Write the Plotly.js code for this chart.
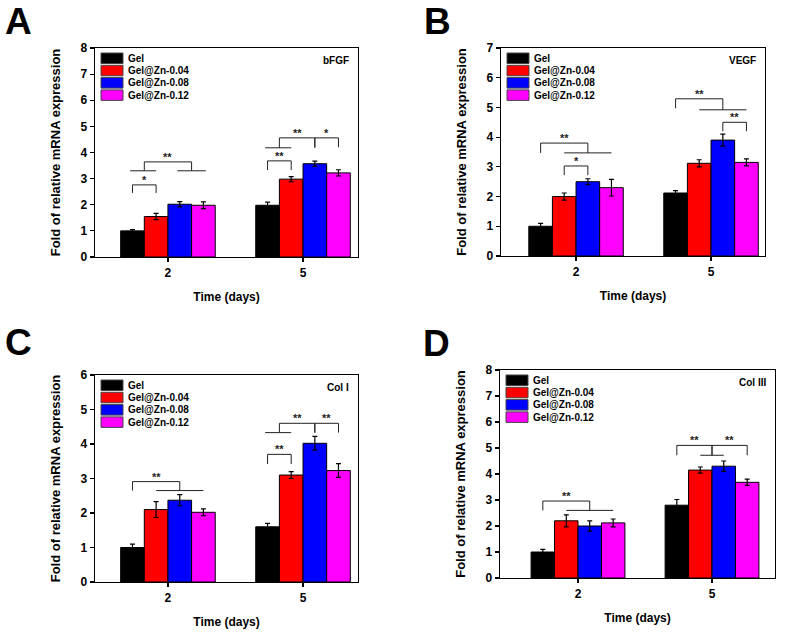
<!DOCTYPE html>
<html>
<head>
<meta charset="utf-8">
<script src="https://cdn.plot.ly/plotly-3.0.1.min.js"></script>
<style>
  html, body { margin: 0; padding: 0; background: #fff; }
  #chart { width: 790px; height: 633px; }
</style>
</head>
<body>
<div id="chart"></div>
<script>
// ---- data ----
const days = ['2', '5'];
const seriesNames = ['Gel', 'Gel@Zn-0.04', 'Gel@Zn-0.08', 'Gel@Zn-0.12'];
const seriesColors = ['#000000', '#ff0000', '#0000ff', '#ff00ff'];

// one row per series, one column per day
const bfgfMeans = [[1.0, 1.98], [1.55, 2.98], [2.02, 3.57], [1.98, 3.22]];
const bfgfErrors = [[0.05, 0.12], [0.12, 0.1], [0.1, 0.1], [0.13, 0.12]];

const vegfMeans = [[1.0, 2.12], [2.0, 3.12], [2.5, 3.9], [2.3, 3.15]];
const vegfErrors = [[0.1, 0.08], [0.12, 0.12], [0.1, 0.2], [0.28, 0.12]];

const col1Means = [[1.0, 1.6], [2.1, 3.1], [2.37, 4.02], [2.02, 3.23]];
const col1Errors = [[0.1, 0.1], [0.23, 0.1], [0.16, 0.2], [0.1, 0.2]];

const col3Means = [[1.0, 2.8], [2.2, 4.15], [2.0, 4.3], [2.12, 3.68]];
const col3Errors = [[0.1, 0.22], [0.23, 0.12], [0.2, 0.2], [0.15, 0.12]];

// significance brackets: [day index, from bar, to bar, top, left leg end, right leg end, label]
const bfgfBrackets = [
  [0, 0, 1, 2.76, 2.45, 2.45, '*'],
  [0, 0.5, 2.5, 3.64, 3.3, 3.3, '**'],
  [1, 0, 1, 3.68, 3.33, 3.33, '**'],
  [1, 0.5, 2, 4.56, 4.18, 4.18, '**'],
  [1, 2, 3, 4.56, 4.2, 4.2, '*']
];
// group lines under brackets: [day index, from bar, to bar, y]
const bfgfLines = [[0, -0.1, 1, 3.3], [0, 1.9, 3.1, 3.3], [1, -0.1, 1, 4.18]];

const vegfBrackets = [
  [0, 1, 2, 3.03, 2.72, 2.72, '*'],
  [0, 0, 2, 3.8, 3.47, 3.47, '**'],
  [1, 0, 2, 5.29, 4.97, 4.92, '**'],
  [1, 2, 3, 4.5, 4.2, 4.2, '**']
];
const vegfLines = [[0, 1, 3, 3.47], [1, 1, 3, 4.92]];

const col1Brackets = [
  [0, 0, 2, 2.91, 2.65, 2.65, '**'],
  [1, 0, 1, 3.7, 3.42, 3.42, '**'],
  [1, 0.5, 2, 4.6, 4.33, 4.33, '**'],
  [1, 2, 3, 4.6, 4.33, 4.33, '**']
];
const col1Lines = [[0, 1, 3, 2.65], [1, -0.1, 1, 4.33]];

const col3Brackets = [
  [0, 0, 2, 2.96, 2.6, 2.6, '**'],
  [1, 0, 1.5, 5.1, 4.72, 4.72, '**'],
  [1, 1.5, 3, 5.1, 4.72, 4.72, '**']
];
const col3Lines = [[0, 1, 3, 2.6], [1, 1, 2, 4.72]];

// ---- layout helpers ----
const W = 790, H = 633;
const BARGAP = 0.3;
const BW = (1 - BARGAP) / seriesNames.length;
const FONT = 'Arial, "Liberation Sans", sans-serif';

const panels = [
  { letter: 'A', gene: 'bFGF', means: bfgfMeans, errors: bfgfErrors, brackets: bfgfBrackets, lines: bfgfLines,
    box: [95, 358, 48, 257], ymax: 8, xr: [-0.54, 1.407], letterPos: [18, 0] },
  { letter: 'B', gene: 'VEGF', means: vegfMeans, errors: vegfErrors, brackets: vegfBrackets, lines: vegfLines,
    box: [501, 765, 48, 256], ymax: 7, xr: [-0.556, 1.4], letterPos: [438, 0] },
  { letter: 'C', gene: 'Col I', means: col1Means, errors: col1Errors, brackets: col1Brackets, lines: col1Lines,
    box: [95, 358, 375, 582], ymax: 6, xr: [-0.54, 1.407], letterPos: [18, 321] },
  { letter: 'D', gene: 'Col III', means: col3Means, errors: col3Errors, brackets: col3Brackets, lines: col3Lines,
    box: [500, 775, 370, 578], ymax: 8, xr: [-0.582, 1.47], letterPos: [437, 322] }
];

// x position of a bar inside a day group
function barX(day, bar) {
  return day + (bar - (seriesNames.length - 1) / 2) * BW;
}

const traces = [];
const shapes = [];
const annotations = [];
const layout = {
  width: W,
  height: H,
  margin: { l: 0, r: 0, t: 0, b: 0 },
  paper_bgcolor: '#ffffff',
  plot_bgcolor: '#ffffff',
  barmode: 'group',
  bargap: BARGAP,
  bargroupgap: 0,
  showlegend: false,
  font: { family: FONT, color: '#000', weight: 'bold' }
};

panels.forEach((p, k) => {
  const n = k + 1;
  const xa = n === 1 ? 'x' : 'x' + n;
  const ya = n === 1 ? 'y' : 'y' + n;
  const [x0, x1, y0, y1] = p.box;

  seriesNames.forEach((name, s) => {
    traces.push({
      type: 'bar',
      name: name,
      x: days,
      y: p.means[s],
      xaxis: xa,
      yaxis: ya,
      marker: { color: seriesColors[s], line: { color: '#000', width: 1 } },
      error_y: { type: 'data', array: p.errors[s], visible: true, color: '#000', thickness: 1.2, width: 2.5 },
      hoverinfo: 'skip'
    });
  });

  layout['xaxis' + (n === 1 ? '' : n)] = {
    domain: [x0 / W, x1 / W],
    anchor: ya,
    type: 'category',
    range: p.xr,
    showline: true, mirror: true, linecolor: '#000', linewidth: 1.3,
    ticks: 'outside', ticklen: 4, tickwidth: 1.2, tickcolor: '#000',
    showgrid: false, zeroline: false,
    tickfont: { size: 12, family: FONT, weight: 'bold' },
    title: { text: 'Time (days)', font: { size: 12, family: FONT, weight: 'bold' }, standoff: 14 },
    fixedrange: true
  };
  layout['yaxis' + (n === 1 ? '' : n)] = {
    domain: [1 - y1 / H, 1 - y0 / H],
    anchor: xa,
    range: [0, p.ymax],
    dtick: 1,
    showline: true, mirror: true, linecolor: '#000', linewidth: 1.3,
    ticks: 'outside', ticklen: 4, tickwidth: 1.2, tickcolor: '#000',
    showgrid: false, zeroline: false,
    tickfont: { size: 12, family: FONT, weight: 'bold' },
    title: { text: 'Fold of relative mRNA expression', font: { size: 13, family: FONT, weight: 'bold' }, standoff: 17 },
    fixedrange: true
  };

  // legend drawn as boxes in the top-left corner of each panel
  seriesNames.forEach((name, s) => {
    shapes.push({
      type: 'rect',
      xref: xa + ' domain', yref: ya + ' domain',
      xsizemode: 'pixel', ysizemode: 'pixel',
      xanchor: 0, yanchor: 1,
      x0: 6, x1: 28, y0: -5 - s * 12.3, y1: -15.5 - s * 12.3,
      fillcolor: seriesColors[s],
      line: { color: '#444', width: 1 }
    });
    annotations.push({
      xref: xa + ' domain', yref: ya + ' domain',
      x: 0, y: 1, xanchor: 'left', yanchor: 'middle',
      xshift: 31, yshift: -10.2 - s * 12.3,
      text: name, showarrow: false,
      font: { size: 10, family: FONT, weight: 'bold', color: '#000' }
    });
  });

  // gene label at the top right
  annotations.push({
    xref: xa + ' domain', yref: ya + ' domain',
    x: 1, y: 1, xanchor: 'right', yanchor: 'middle',
    xshift: -7, yshift: -12,
    text: p.gene, showarrow: false,
    font: { size: 10, family: FONT, weight: 'bold', color: '#000' }
  });

  // panel letter
  annotations.push({
    xref: 'paper', yref: 'paper',
    x: p.letterPos[0] / W, y: 1 - p.letterPos[1] / H,
    xanchor: 'center', yanchor: 'top', borderpad: 0,
    text: p.letter, showarrow: false,
    font: { size: 37, family: FONT, weight: 'bold', color: '#000' }
  });

  // significance brackets
  const lineStyle = { color: '#222', width: 1 };
  p.brackets.forEach(([d, a, b, top, la, lb, label]) => {
    const xa0 = barX(d, a), xb0 = barX(d, b);
    shapes.push({
      type: 'path', xref: xa, yref: ya,
      path: `M ${xa0} ${la} L ${xa0} ${top} L ${xb0} ${top} L ${xb0} ${lb}`,
      line: lineStyle
    });
    annotations.push({
      xref: xa, yref: ya, x: (xa0 + xb0) / 2, y: top,
      xanchor: 'center', yanchor: 'bottom', yshift: -3,
      text: label, showarrow: false,
      font: { size: 11, family: FONT, weight: 'bold', color: '#222' }
    });
  });
  p.lines.forEach(([d, a, b, yv]) => {
    shapes.push({
      type: 'line', xref: xa, yref: ya,
      x0: barX(d, a), x1: barX(d, b), y0: yv, y1: yv,
      line: lineStyle
    });
  });
});

layout.shapes = shapes;
layout.annotations = annotations;

Plotly.newPlot('chart', traces, layout, { displayModeBar: false, staticPlot: true });
</script>
</body>
</html>
